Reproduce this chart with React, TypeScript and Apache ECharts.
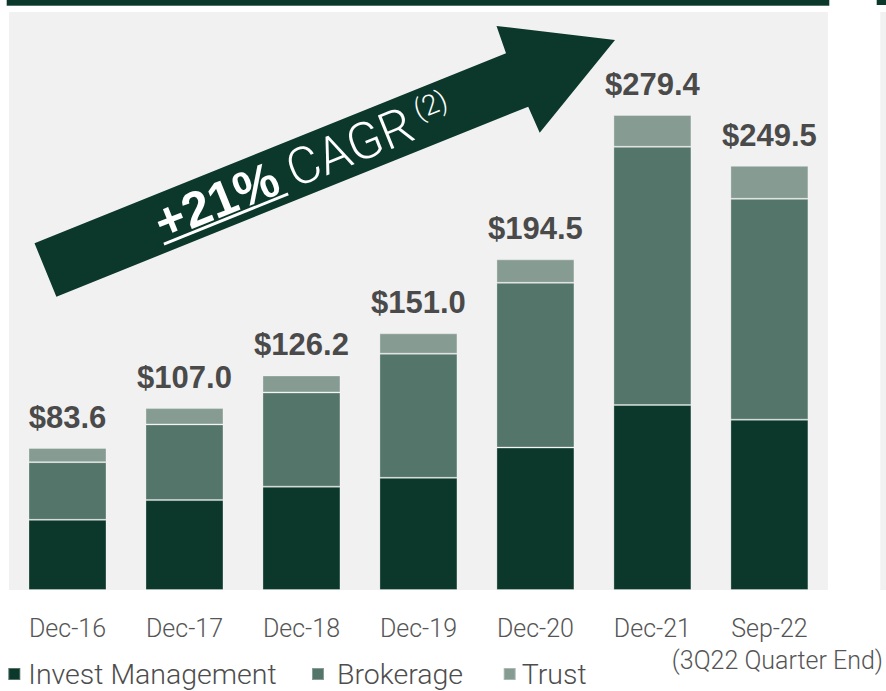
import React, { useEffect, useRef } from "react";
import * as echarts from "echarts";

const categories = ["Dec-16", "Dec-17", "Dec-18", "Dec-19", "Dec-20", "Dec-21", "Sep-22"];
const investManagement = [41.3, 52.9, 60.8, 66.0, 83.8, 108.8, 100.2];
const brokerage = [33.9, 44.5, 55.4, 73.0, 96.9, 151.9, 129.9];
const trust = [8.4, 9.6, 10.0, 12.0, 13.8, 18.7, 19.4];
const totals = [83.6, 107.0, 126.2, 151.0, 194.5, 279.4, 249.5];
const seriesNames = ["Invest Management", "Brokerage", "Trust"];
const seriesColors = ["#0b382b", "#53756a", "#869c93"];
const lastCategorySubtitle = "(3Q22 Quarter End)";

const FONT = "'Liberation Sans', Arial, sans-serif";
const LIGHT = "Roboto, 'Liberation Sans', Arial, sans-serif";

export default function App() {
  const ref = useRef<HTMLDivElement>(null);

  useEffect(() => {
    if (!ref.current) return;
    const chart = echarts.init(ref.current, null, { renderer: "svg" });
    const seriesData = [investManagement, brokerage, trust];

    const legendLefts = [7.3, 311, 502.7];
    const legendPads = [3, 8, 1];
    const axisColor = "#555555";

    const option: any = {
      animation: false,
      backgroundColor: "#ffffff",
      textStyle: { fontFamily: FONT },
      grid: {
        left: 9,
        top: 12,
        width: 819,
        height: 578,
        show: true,
        backgroundColor: "#f1f1f1",
        borderWidth: 0,
        containLabel: false,
      },
      xAxis: {
        type: "category",
        data: categories,
        axisLine: { show: false },
        axisTick: { show: false },
        splitLine: { show: false },
        axisLabel: {
          interval: 0,
          margin: 22,
          fontSize: 25,
          fontWeight: 300,
          lineHeight: 32,
          color: axisColor,
          fontFamily: LIGHT,
          formatter: (v: string, i: number) =>
            i === categories.length - 1
              ? `{a|${v}}\n{b|${lastCategorySubtitle}}`
              : v,
          rich: {
            a: { fontSize: 25, fontWeight: 300, lineHeight: 32, color: axisColor, fontFamily: LIGHT },
            b: {
              fontSize: 25,
              fontWeight: 300,
              lineHeight: 32,
              color: axisColor,
              fontFamily: LIGHT,
              padding: [0, 0, 0, 16],
            },
          },
        },
      },
      yAxis: {
        type: "value",
        min: 0,
        max: 340,
        show: false,
        splitLine: { show: false },
      },
      legend: seriesNames.map((n, i) => ({
        data: [n],
        left: legendLefts[i],
        top: 659,
        padding: 0,
        icon: "rect",
        itemWidth: 12,
        itemHeight: 12,
        itemGap: 0,
        selectedMode: false,
        textStyle: {
          fontSize: 28.5,
          fontWeight: 300,
          lineHeight: 30,
          color: "#4d4d4d",
          fontFamily: LIGHT,
          padding: [0, 0, 0, legendPads[i]],
        },
      })),
      series: seriesNames.map((name, si) => ({
        name,
        type: "bar",
        stack: "total",
        barWidth: 78,
        data: seriesData[si],
        itemStyle: {
          color: seriesColors[si],
          borderColor: "rgba(255,255,255,0.3)",
          borderWidth: 1,
        },
        label:
          si === 2
            ? {
                show: true,
                position: "top",
                distance: 15,
                formatter: (p: any) => "$" + totals[p.dataIndex].toFixed(1),
                fontSize: 31,
                fontWeight: "bold",
                color: "#4a4a4a",
                fontFamily: FONT,
              }
            : { show: false },
      })),
      graphic: [
        {
          type: "rect",
          z: 100,
          shape: { x: 6.7, y: 0, width: 822.6, height: 5 },
          style: { fill: "#0b382b" },
        },
        {
          type: "line",
          z: 100,
          shape: { x1: 6.7, y1: 5.5, x2: 829.3, y2: 5.5 },
          style: { stroke: "#4f7366", lineWidth: 1 },
        },
        {
          type: "rect",
          z: 100,
          shape: { x: 876.7, y: 0, width: 10, height: 5 },
          style: { fill: "#0b382b" },
        },
        {
          type: "rect",
          z: 100,
          shape: { x: 880.3, y: 12, width: 6, height: 578 },
          style: { fill: "#f1f1f1" },
        },
        {
          type: "polygon",
          z: 100,
          shape: {
            points: [
              [34.5, 243.3],
              [506, 53.3],
              [496.5, 26],
              [615, 40],
              [539.7, 132.7],
              [528.2, 106.7],
              [56.4, 296.7],
            ],
          },
          style: { fill: "#0b382b" },
        },
        {
          type: "group",
          z: 101,
          x: 45.45,
          y: 270,
          rotation: (22 * Math.PI) / 180,
          children: [
            {
              type: "text",
              z: 101,
              x: 120,
              y: 0,
              style: {
                text: "+21%",
                fill: "#ffffff",
                fontSize: 50,
                fontWeight: "bold",
                fontFamily: FONT,
                align: "left",
                verticalAlign: "middle",
              },
            },
            {
              type: "line",
              z: 101,
              shape: { x1: 119.5, y1: 20.5, x2: 253.6, y2: 20.5 },
              style: { stroke: "#ffffff", lineWidth: 3 },
            },
            {
              type: "text",
              z: 101,
              x: 262,
              y: 0,
              style: {
                text: "CAGR",
                fill: "#ffffff",
                fontSize: 51,
                fontWeight: 300,
                fontFamily: LIGHT,
                align: "left",
                verticalAlign: "middle",
              },
            },
            {
              type: "text",
              z: 101,
              x: 402,
              y: -9,
              style: {
                text: "(2)",
                fill: "#ffffff",
                fontSize: 28,
                fontWeight: 300,
                fontFamily: LIGHT,
                align: "left",
                verticalAlign: "middle",
              },
            },
          ],
        },
      ],
    };

    chart.setOption(option);
    return () => chart.dispose();
  }, []);

  return (
    <div
      ref={ref}
      style={{ position: "absolute", left: 0, top: 0, width: 886, height: 691 }}
    />
  );
}
